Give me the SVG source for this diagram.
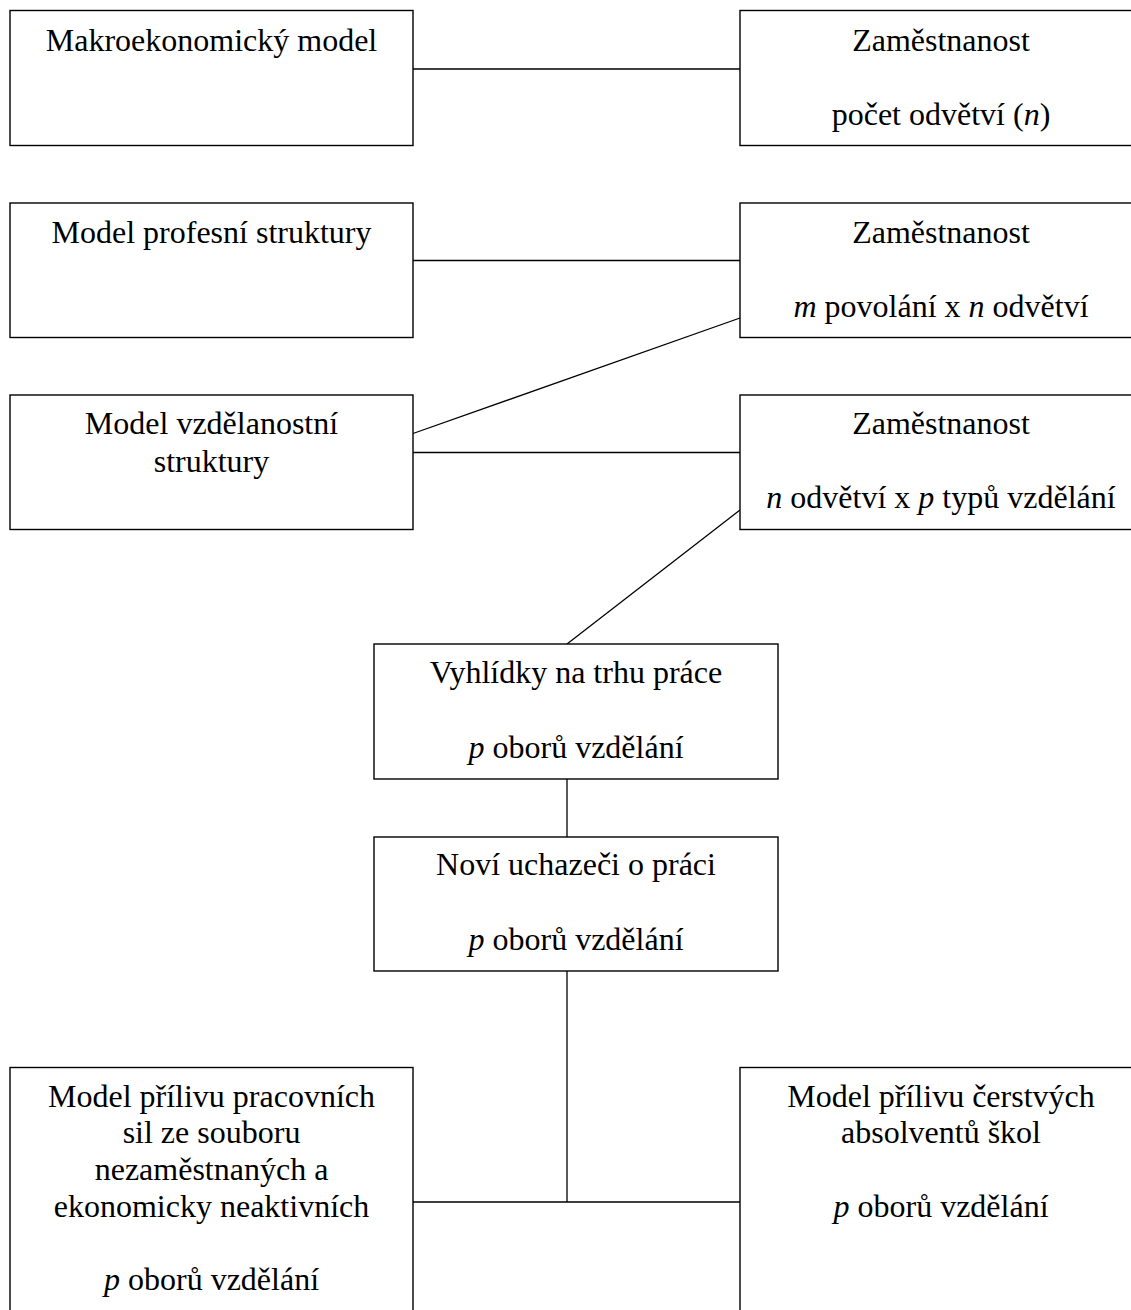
<svg xmlns="http://www.w3.org/2000/svg" width="1131" height="1310" viewBox="0 0 1131 1310">
<style>
.box{fill:#fff;stroke:#000;stroke-width:1.4}
.ln{stroke:#000;stroke-width:1.3;fill:none}
text{font-family:"Liberation Serif","Times New Roman",serif;font-size:32px;fill:#000;text-anchor:middle}
.i{font-style:italic}
</style>
<rect width="1131" height="1310" fill="#fff"/>
<g id="connectors">
<line class="ln" x1="413" y1="69" x2="740" y2="69"/>
<line class="ln" x1="413" y1="260.5" x2="740" y2="260.5"/>
<line class="ln" x1="740" y1="318" x2="413" y2="433.5"/>
<line class="ln" x1="413" y1="452.5" x2="740" y2="452.5"/>
<line class="ln" x1="740" y1="510" x2="567" y2="644"/>
<line class="ln" x1="567" y1="779" x2="567" y2="837"/>
<line class="ln" x1="567" y1="971" x2="567" y2="1202"/>
<line class="ln" x1="413" y1="1202" x2="740" y2="1202"/>
</g>
<g id="n1">
<rect class="box" x="10" y="10.5" width="403" height="135"/>
<text x="211.5" y="51">Makroekonomický model</text>
</g>
<g id="n2">
<rect class="box" x="740" y="10.5" width="403" height="135"/>
<text x="941" y="51">Zaměstnanost</text>
<text x="941" y="125">počet odvětví (<tspan class="i">n</tspan>)</text>
</g>
<g id="n3">
<rect class="box" x="10" y="203" width="403" height="134.5"/>
<text x="211.5" y="243">Model profesní struktury</text>
</g>
<g id="n4">
<rect class="box" x="740" y="203" width="403" height="134.5"/>
<text x="941" y="243">Zaměstnanost</text>
<text x="941" y="317"><tspan class="i">m</tspan> povolání x <tspan class="i">n</tspan> odvětví</text>
</g>
<g id="n5">
<rect class="box" x="10" y="395" width="403" height="134.5"/>
<text x="211.5" y="434">Model vzdělanostní</text>
<text x="211.5" y="471.5">struktury</text>
</g>
<g id="n6">
<rect class="box" x="740" y="395" width="403" height="134.5"/>
<text x="941" y="434">Zaměstnanost</text>
<text x="941" y="508"><tspan class="i">n</tspan> odvětví x <tspan class="i">p</tspan> typů vzdělání</text>
</g>
<g id="n7">
<rect class="box" x="374" y="644" width="404" height="135"/>
<text x="576" y="683">Vyhlídky na trhu práce</text>
<text x="576" y="758"><tspan class="i">p</tspan> oborů vzdělání</text>
</g>
<g id="n8">
<rect class="box" x="374" y="837" width="404" height="134"/>
<text x="576" y="875">Noví uchazeči o práci</text>
<text x="576" y="950"><tspan class="i">p</tspan> oborů vzdělání</text>
</g>
<g id="n9">
<rect class="box" x="10" y="1067.5" width="403" height="260"/>
<text x="211.5" y="1106.5">Model přílivu pracovních</text>
<text x="211.5" y="1143">sil ze souboru</text>
<text x="211.5" y="1180">nezaměstnaných a</text>
<text x="211.5" y="1216.5">ekonomicky neaktivních</text>
<text x="211.5" y="1290"><tspan class="i">p</tspan> oborů vzdělání</text>
</g>
<g id="n10">
<rect class="box" x="740" y="1067.5" width="403" height="260"/>
<text x="941" y="1106.5">Model přílivu čerstvých</text>
<text x="941" y="1143">absolventů škol</text>
<text x="941" y="1216.5"><tspan class="i">p</tspan> oborů vzdělání</text>
</g>
</svg>
